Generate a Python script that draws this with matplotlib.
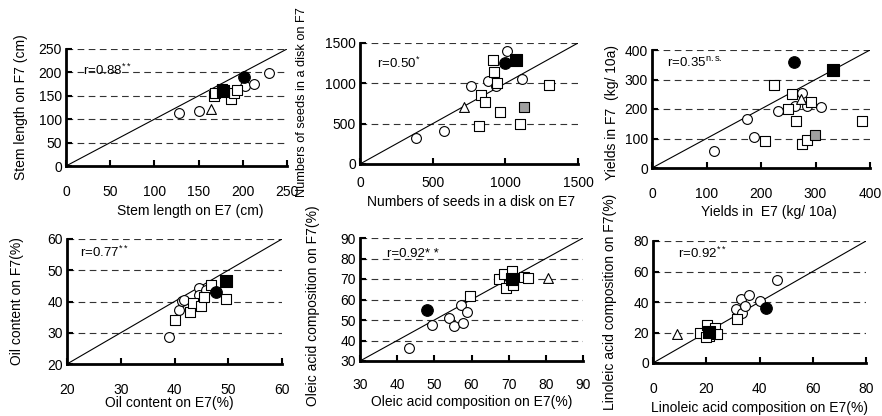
import numpy as np
import matplotlib
matplotlib.use("Agg")
import matplotlib.pyplot as plt

plt.rcParams['font.family'] = ['Liberation Sans', 'DejaVu Sans']
plt.rcParams['mathtext.fontset'] = 'custom'
plt.rcParams['mathtext.rm'] = 'Liberation Sans'
plt.rcParams['mathtext.it'] = 'Liberation Sans:italic'

# marker kinds: o = open circle, s = open square, ^ = open triangle,
# O = filled circle, S = filled square, G = grey square

# Stem length (cm)
stem_x = [128, 151, 164, 167, 168, 176, 178, 187, 190, 193, 201, 203, 213, 230]
stem_y = [114, 118, 122, 150, 157, 164, 160, 143, 156, 163, 190, 171, 176, 199]
stem_k = ['o', 'o', '^', 's', 's', 's', 'S', 's', 's', 's', 'O', 'o', 'o', 'o']

# Numbers of seeds in a disk
seed_x = [382, 577, 714, 767, 836, 859, 820, 879, 916, 925, 934, 941, 962, 1012,
          996, 1076, 1117, 1099, 1127, 1301]
seed_y = [320, 415, 703, 966, 855, 773, 477, 1031, 1295, 1143, 966, 1003, 641, 1401,
          1258, 1286, 1052, 497, 703, 978]
seed_k = ['o', 'o', '^', 'o', 's', 's', 's', 'o', 's', 's', 'o', 's', 's', 'o',
          'O', 'S', 'o', 's', 'G', 's']

# Yields (kg/10a)
yld_x = [113, 174, 187, 208, 231, 223, 249, 256, 263, 264, 261, 275, 273, 284,
         291, 275, 285, 299, 310, 333, 385]
yld_y = [56, 167, 105, 90, 194, 282, 199, 251, 211, 160, 358, 254, 234, 211,
         225, 82, 94, 113, 208, 332, 160]
yld_k = ['o', 'o', 'o', 's', 'o', 's', 's', 's', 'o', 's', 'O', 'o', '^', 'o',
         's', 's', 's', 'G', 'o', 'S', 's']

# Oil content (%)
oil_x = [39.0, 40.0, 40.9, 41.4, 41.7, 42.9, 43.4, 45.0, 44.5, 44.6, 45.4, 45.9,
         46.8, 47.7, 49.6, 49.5]
oil_y = [28.5, 34.2, 37.4, 40.1, 40.6, 36.6, 39.5, 38.5, 44.3, 42.2, 41.6, 43.8,
         45.4, 43.0, 46.5, 40.8]
oil_k = ['o', 's', 'o', 'o', 'o', 's', 's', 's', 'o', 'o', 's', 'o',
         's', 'O', 'S', 's']

# Oleic acid composition (%)
ole_x = [43.3, 48.1, 49.5, 54.0, 55.3, 57.8, 57.1, 58.9, 59.6, 67.3, 68.7, 69.4,
         71.0, 71.2, 74.1, 75.2, 70.9, 80.6]
ole_y = [36.2, 55.1, 47.8, 50.8, 47.2, 48.3, 57.2, 53.7, 61.8, 70.2, 72.3, 65.8,
         73.9, 67.0, 71.0, 70.7, 69.9, 70.5]
ole_k = ['o', 'O', 'o', 'o', 'o', 'o', 'o', 'o', 's', 's', 's', 's',
         's', 's', 's', 's', 'S', '^']

# Linoleic acid composition (%)
lin_x = [9.0, 17.5, 20.3, 20.9, 23.4, 24.0, 20.0, 20.9, 31.6, 31.3, 32.9, 33.4,
         34.7, 36.0, 40.3, 46.6, 42.3]
lin_y = [18.9, 19.6, 25.0, 18.0, 22.8, 19.1, 17.0, 20.2, 28.8, 35.2, 41.7, 33.0,
         37.5, 44.4, 40.8, 54.3, 35.9]
lin_k = ['^', 's', 's', 's', 's', 's', 's', 'S', 's', 'o', 'o', 'o',
         'o', 'o', 'o', 'o', 'O']

styles = {
    'o': dict(marker='o', s=50, facecolor='white', edgecolor='black', zorder=3),
    's': dict(marker='s', s=48, facecolor='white', edgecolor='black', zorder=3),
    '^': dict(marker='^', s=50, facecolor='white', edgecolor='black', zorder=3),
    'G': dict(marker='s', s=48, facecolor='#a0a0a0', edgecolor='black', zorder=3),
    'O': dict(marker='o', s=70, facecolor='black', edgecolor='black', zorder=4),
    'S': dict(marker='s', s=64, facecolor='black', edgecolor='black', zorder=4),
}

panels = [
    # x, y, kinds, limits, step, rect px (l, t, r, b), xlabel, ylabel, r text,
    # r text pos, x tick pad, xlabel pos, ylabel pos (axes fraction), ylabel size
    (stem_x, stem_y, stem_k, (0, 250), 50, (66, 49, 287, 166),
     'Stem length on E7 (cm)', 'Stem length on F7 (cm)',
     r'r=0.88$^{**}$', (0.077, 0.82), 14, (0.56, -0.385), (-0.204, 0.5), 10),
    (seed_x, seed_y, seed_k, (0, 1500), 500, (360, 43, 578, 164),
     'Numbers of seeds in a disk on E7', 'Numbers of seeds in a disk on F7',
     r'r=0.50$^{*}$', (0.078, 0.835), 9, (0.51, -0.314), (-0.265, 0.51), 9.2),
    (yld_x, yld_y, yld_k, (0, 400), 100, (652, 50, 870, 168),
     'Yields in  E7 (kg/ 10a)', 'Yields in F7  (kg/ 10a)',
     r'r=0.35$^{\mathrm{n.s.}}$', (0.069, 0.89), 14, (0.537, -0.373), (-0.183, 0.47), 10),
    (oil_x, oil_y, oil_k, (20, 60), 10, (67, 239, 282, 364),
     'Oil content on E7(%)', 'Oil content on F7(%)',
     r'r=0.77$^{**}$', (0.06, 0.89), 14, (0.474, -0.312), (-0.233, 0.5), 10),
    (ole_x, ole_y, ole_k, (30, 90), 10, (360, 238, 583, 361),
     'Oleic acid composition on E7(%)', 'Oleic acid composition on F7(%)',
     'r=0.92* *', (0.12, 0.87), 12, (0.5, -0.333), (-0.21, 0.447), 10),
    (lin_x, lin_y, lin_k, (0, 80), 20, (653, 241, 866, 363),
     'Linoleic acid composition on E7(%)', 'Linoleic acid composition on F7(%)',
     r'r=0.92$^{**}$', (0.117, 0.9), 14, (0.5, -0.369), (-0.2, 0.5), 10),
]

W, H = 882, 416
fig = plt.figure(figsize=(W / 100, H / 100), dpi=100)

for xs, ys, ks, lim, step, rect, xl, yl, rtxt, rpos, xpad, xlpos, ylpos, ylsize in panels:
    l, t, r, b = rect
    ax = fig.add_axes([l / W, 1 - b / H, (r - l) / W, (b - t) / H])
    ticks = np.arange(lim[0], lim[1] + step / 2, step)
    for v in ticks[1:]:
        ax.axhline(v, color='0.2', lw=0.8, ls=(0, (6, 4)), zorder=1)
    ax.plot(lim, lim, color='black', lw=0.8, zorder=2)
    xs, ys, ks = np.array(xs), np.array(ys), np.array(ks)
    for k in ['o', 's', '^', 'G', 'O', 'S']:
        m = ks == k
        if m.any():
            ax.scatter(xs[m], ys[m], linewidths=0.8, **styles[k])
    ax.set_xlim(lim)
    ax.set_ylim(lim)
    ax.set_xticks(ticks)
    ax.set_yticks(ticks)
    for side in ['top', 'right']:
        ax.spines[side].set_visible(False)
    for side in ['left', 'bottom']:
        ax.spines[side].set_linewidth(2)
    ax.tick_params(axis='both', direction='in', length=4, width=1.5, labelsize=10)
    ax.tick_params(axis='x', pad=xpad)
    ax.tick_params(axis='y', pad=3)
    ax.set_xlabel(xl, fontsize=10, va='center', ha='center')
    ax.set_ylabel(yl, fontsize=ylsize, va='center', ha='center')
    ax.xaxis.set_label_coords(*xlpos)
    ax.yaxis.set_label_coords(*ylpos)
    ax.text(rpos[0], rpos[1], rtxt, transform=ax.transAxes, fontsize=9.5,
            va='center', ha='left', zorder=5)

fig.savefig('out.png', dpi=100)
